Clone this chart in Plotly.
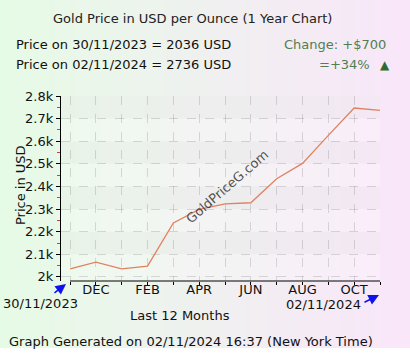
import plotly.graph_objects as go

# ---- data ----
month_index = list(range(13))
prices = [2036, 2065, 2036, 2048, 2239, 2299, 2323, 2328, 2434, 2502, 2626, 2747, 2736]
tick_positions = list(range(13))
tick_labels = ["", "DEC", "", "FEB", "", "APR", "", "JUN", "", "AUG", "", "OCT", ""]
y_ticks = [2000, 2100, 2200, 2300, 2400, 2500, 2600, 2700, 2800]
y_tick_labels = ["2k", "2.1k", "2.2k", "2.3k", "2.4k", "2.5k", "2.6k", "2.7k", "2.8k"]
band_starts = [2100, 2300, 2500, 2700]

W, H = 410, 355
L, R, T, B = 61, 380, 96, 281
FONT = "DejaVu Sans"


def px(xp):
    return (xp - L) / (R - L)


def py(yp):
    return (B - yp) / (B - T)


fig = go.Figure()
fig.add_trace(go.Scatter(x=month_index, y=prices, mode="lines",
                         line=dict(color="#E0825F", width=1.3),
                         hoverinfo="skip", showlegend=False))

shapes = []
# background gradient (green -> pink)
n = 82
c0 = (230, 251, 230)
c1 = (249, 230, 249)
for i in range(n):
    t = i / (n - 1)
    col = tuple(round(c0[k] + (c1[k] - c0[k]) * t) for k in range(3))
    shapes.append(dict(type="rect", xref="paper", yref="paper",
                       x0=px(i * W / n), x1=px((i + 1) * W / n + 0.6),
                       y0=py(H), y1=py(0), line=dict(width=0),
                       fillcolor="rgb(%d,%d,%d)" % col, layer="below"))
# white strip at bottom
shapes.append(dict(type="rect", xref="paper", yref="paper",
                   x0=px(0), x1=px(W), y0=py(H), y1=py(348),
                   line=dict(width=0), fillcolor="white", layer="below"))
# lighten plot area slightly
shapes.append(dict(type="rect", xref="x domain", yref="y domain",
                   x0=0, x1=1, y0=0, y1=1, line=dict(width=0),
                   fillcolor="rgba(255,255,255,0.25)", layer="below"))
# horizontal bands in plot area
for b in band_starts:
    shapes.append(dict(type="rect", xref="x domain", yref="y",
                       x0=0, x1=1, y0=b, y1=b + 100, line=dict(width=0),
                       fillcolor="rgba(0,0,0,0.025)", layer="below"))
# x axis line (from first to last point)
shapes.append(dict(type="line", xref="x", yref="y domain",
                   x0=0, x1=12, y0=0, y1=0, line=dict(color="black", width=1.2)))
fig.update_layout(shapes=shapes)

ann = []


def text(x, y, s, size=13, color="#111", xanchor="left", angle=0):
    ann.append(dict(x=px(x), y=py(y), xref="paper", yref="paper", text=s,
                    showarrow=False, xanchor=xanchor, yanchor="middle",
                    textangle=angle, font=dict(family=FONT, size=size, color=color)))


text(192, 18, "Gold Price in USD per Ounce (1 Year Chart)", xanchor="center", color="#222")
text(14, 44, "Price on 30/11/2023 = 2036 USD")
text(14, 64, "Price on 02/11/2024 = 2736 USD")
text(388, 44, "Change: +$700", xanchor="right", color="#4F7F4F")
text(372, 64, "=+34%", xanchor="right", color="#4F7F4F")
text(385, 65, "▲", size=12, xanchor="center", color="#2E6B2E")
text(20, 185, "Price in USD", xanchor="center", angle=-90)
text(1, 303, "30/11/2023")
text(284, 304, "02/11/2024")
text(180, 315, "Last 12 Months", xanchor="center")
text(7, 341, "Graph Generated on 02/11/2024 16:37 (New York Time)")
text(227, 186, "GoldPriceG.com", size=13, xanchor="center", color="rgba(50,50,50,0.85)", angle=-41)

# blue arrows
ann.append(dict(x=px(66), y=py(284), xref="paper", yref="paper", text="",
                showarrow=True, ax=-13, ay=10, arrowhead=2, arrowsize=1.4,
                arrowwidth=1.5, arrowcolor="#1010F0"))
ann.append(dict(x=px(379), y=py(295), xref="paper", yref="paper", text="",
                showarrow=True, ax=-16, ay=8, arrowhead=2, arrowsize=1.4,
                arrowwidth=1.5, arrowcolor="#1010F0"))
fig.update_layout(annotations=ann)

fig.update_layout(
    width=W, height=H,
    margin=dict(l=L, r=W - R, t=T, b=H - B, pad=0),
    paper_bgcolor="white",
    plot_bgcolor="rgba(0,0,0,0)",
    font=dict(family=FONT, size=13, color="#111"),
    xaxis=dict(range=[-0.35, 12], tickmode="array", tickvals=tick_positions,
               ticktext=tick_labels, showgrid=True, gridcolor="rgba(0,0,0,0.13)",
               griddash="dash", gridwidth=1, zeroline=False, showline=False,
               ticks="outside", ticklen=3, tickcolor="black", ticklabelstandoff=-7,
               tickfont=dict(family=FONT, size=13, color="#111"), fixedrange=True),
    yaxis=dict(range=[1982, 2800], tickmode="array", tickvals=y_ticks,
               ticktext=y_tick_labels, showgrid=True, gridcolor="rgba(0,0,0,0.13)",
               griddash="dash", zeroline=False, showline=True, linecolor="black",
               linewidth=1.2, ticks="outside", ticklen=4, tickcolor="black",
               minor=dict(tickvals=[2050, 2150, 2250, 2350, 2450, 2550, 2650, 2750],
                          ticks="outside", ticklen=3, tickcolor="#D04040", showgrid=False),
               tickfont=dict(family=FONT, size=13, color="#111"), fixedrange=True),
)

fig.write_html("out.html", config={"displayModeBar": False})
